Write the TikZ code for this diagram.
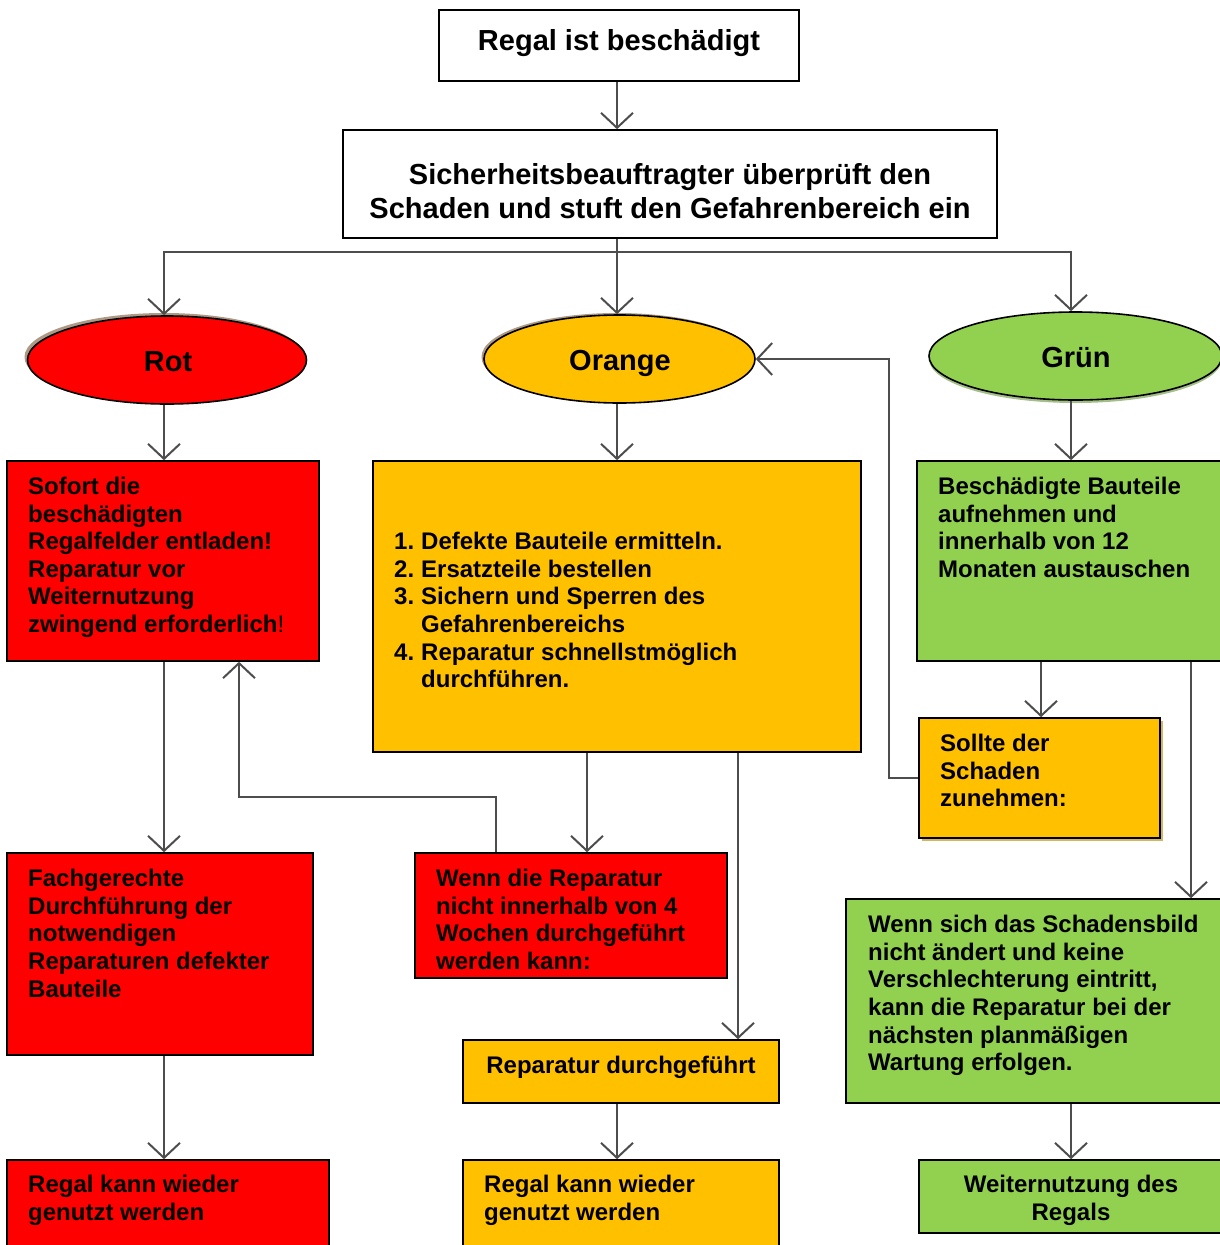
\documentclass[tikz,border=0pt]{standalone}
\usepackage{fontspec}
\setmainfont{Liberation Sans}
\usetikzlibrary{arrows.meta,shapes.geometric,calc}
\definecolor{cred}{HTML}{FF0000}
\definecolor{corange}{HTML}{FFC000}
\definecolor{cgreen}{HTML}{92D050}
\definecolor{cline}{HTML}{4D4D4D}
\begin{document}
\begin{tikzpicture}[x=1pt,y=-1pt,
  box/.style={draw=black, line width=1.6pt, rectangle, inner sep=0pt},
  ell/.style={draw=black, line width=1.6pt, ellipse, inner sep=0pt},
  elltxt/.style={anchor=base, inner sep=0pt, font=\fontsize{29}{34}\selectfont\bfseries},
  txt/.style={anchor=north west, inner sep=0pt, align=left, font=\fontsize{24}{27.6}\selectfont\bfseries},
  ctxt/.style={anchor=north, inner sep=0pt, align=center, font=\fontsize{24}{27.6}\selectfont\bfseries},
  ttxt/.style={anchor=north, inner sep=0pt, align=center, font=\fontsize{29}{34}\selectfont\bfseries},
  arr/.style={draw=cline, line width=1.9pt, -{Straight Barb[length=15pt,width=32pt,line width=2pt]}},
  ln/.style={draw=cline, line width=1.9pt}]
\useasboundingbox (0,0) rectangle (1219,1245);

% reference coordinates for connector columns
\coordinate (cmid) at (617,0);
\coordinate (hy) at (0,252);
\coordinate (c164) at (164,0);
\coordinate (c1071) at (1071,0);
\coordinate (c587) at (587,0);
\coordinate (c738) at (738,0);
\coordinate (c496) at (496,0);
\coordinate (fbr) at (239,797);
\coordinate (c1041) at (1041,0);
\coordinate (c1191) at (1191,0);
\coordinate (c889) at (889,0);

% shadows
\fill[black!45!brown, opacity=0.55] (164,357) ellipse [x radius=139.5, y radius=44];
\fill[black!45!brown, opacity=0.55] (617,357) ellipse [x radius=135.5, y radius=44];
\fill[black!30!cgreen, opacity=0.6] (1075.5,359) ellipse [x radius=146.5, y radius=44];
\fill[black!30!corange, opacity=0.6] (922,721) rectangle (1163,841);

% boxes and ellipses
\node[box, fill=white, minimum width=360, minimum height=71] (tB) at (619,45.5) {};
\node[box, fill=white, minimum width=654, minimum height=108] (sB) at (670,184) {};
\node[ell, fill=cred, minimum width=279, minimum height=88] (rotE) at (167,360) {};
\node[ell, fill=corange, minimum width=271, minimum height=88] (orE) at (619.5,359) {};
\node[ell, fill=cgreen, minimum width=293, minimum height=88] (grE) at (1075.5,356) {};
\node[box, fill=cred, minimum width=312, minimum height=200] (rb1) at (163,561) {};
\node[box, fill=corange, minimum width=488, minimum height=291] (ob) at (617,606.5) {};
\node[box, fill=cgreen, minimum width=308, minimum height=200] (gb1) at (1071,561) {};
\node[box, fill=corange, minimum width=241, minimum height=120] (so) at (1039.5,778) {};
\node[box, fill=cred, minimum width=306, minimum height=202] (rb2) at (160,954) {};
\node[box, fill=cred, minimum width=312, minimum height=125] (rw) at (571,915.5) {};
\node[box, fill=cgreen, minimum width=379, minimum height=204] (gw) at (1035.5,1001) {};
\node[box, fill=corange, minimum width=316, minimum height=63] (od) at (621,1071.5) {};
\node[box, fill=cred, minimum width=322, minimum height=92] (rr) at (168,1206) {};
\node[box, fill=corange, minimum width=316, minimum height=92] (orr) at (621,1206) {};
\node[box, fill=cgreen, minimum width=306, minimum height=73] (gwn) at (1072,1196.5) {};

% texts
\node[ttxt] (tBt) at (619,29) {Regal ist beschädigt};
\node[ttxt] (sBt) at (670,163) {Sicherheitsbeauftragter überprüft den\\Schaden und stuft den Gefahrenbereich ein};
\node[elltxt] (rotT) at (168,371) {Rot};
\node[elltxt] (orT) at (620,370) {Orange};
\node[elltxt] (grT) at (1076,367) {Grün};
\node[txt] (rb1t) at (28,477) {Sofort die\\beschädigten\\Regalfelder entladen!\\Reparatur vor\\Weiternutzung\\zwingend erforderlich{\mdseries !}};
\node[txt] (obt) at (394,532) {\makebox[27pt][l]{1.}Defekte Bauteile ermitteln.\\\makebox[27pt][l]{2.}Ersatzteile bestellen\\\makebox[27pt][l]{3.}Sichern und Sperren des\\\hspace*{27pt}Gefahrenbereichs\\\makebox[27pt][l]{4.}Reparatur schnellstmöglich\\\hspace*{27pt}durchführen.};
\node[txt] (gb1t) at (938,477) {Beschädigte Bauteile\\aufnehmen und\\innerhalb von 12\\Monaten austauschen};
\node[txt] (sot) at (940,734) {Sollte der\\Schaden\\zunehmen:};
\node[txt] (rb2t) at (28,869) {Fachgerechte\\Durchführung der\\notwendigen\\Reparaturen defekter\\Bauteile};
\node[txt] (rwt) at (436,869) {Wenn die Reparatur\\nicht innerhalb von 4\\Wochen durchgeführt\\werden kann:};
\node[txt] (gwt) at (868,915) {Wenn sich das Schadensbild\\nicht ändert und keine\\Verschlechterung eintritt,\\kann die Reparatur bei der\\nächsten planmäßigen\\Wartung erfolgen.};
\node[ctxt] (odt) at (621,1056) {Reparatur durchgeführt};
\node[txt] (rrt) at (28,1175) {Regal kann wieder\\genutzt werden};
\node[txt] (orrt) at (484,1175) {Regal kann wieder\\genutzt werden};
\node[ctxt] (gwnt) at (1071,1175) {Weiternutzung des\\Regals};

% connectors
\draw[arr] (tB.south -| cmid) -- (sB.north -| cmid);
\draw[arr] (sB.south -| cmid) -- (orE.north -| cmid);
\draw[arr] (sB.south -| cmid) |- (c164 |- hy) -- (rotE.north -| c164);
\draw[arr] (sB.south -| cmid) |- (c1071 |- hy) -- (grE.north -| c1071);
\draw[arr] (rotE.south -| c164) -- (rb1.north -| c164);
\draw[arr] (orE.south -| cmid) -- (ob.north -| cmid);
\draw[arr] (grE.south -| c1071) -- (gb1.north -| c1071);
\draw[arr] (rb1.south -| c164) -- (rb2.north -| c164);
\draw[arr] (rb2.south -| c164) -- (rr.north -| c164);
\draw[arr] (ob.south -| c587) -- (rw.north -| c587);
\draw[arr] (ob.south -| c738) -- (od.north -| c738);
\draw[arr] (rw.north -| c496) |- (fbr) -- (rb1.south -| fbr);
\draw[arr] (gb1.south -| c1041) -- (so.north -| c1041);
\draw[arr] (gb1.south -| c1191) -- (gw.north -| c1191);
\draw[arr] (so.west) -| (orE.east -| c889) -- (orE.east);
\draw[arr] (od.south -| cmid) -- (orr.north -| cmid);
\draw[arr] (gw.south -| c1071) -- (gwn.north -| c1071);
\end{tikzpicture}
\end{document}
